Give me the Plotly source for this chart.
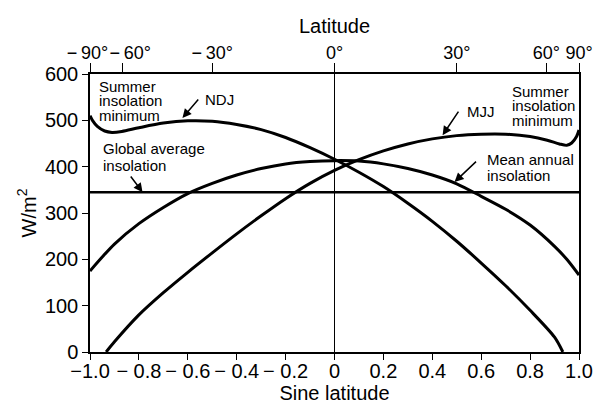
import numpy as np
import plotly.graph_objects as go

# ---------------- data ----------------
sin_lat_ndj = [-1.0, -0.99, -0.97, -0.94, -0.91, -0.87, -0.8, -0.7, -0.6, -0.5, -0.4, -0.3,
               -0.2, -0.1, 0.0, 0.1, 0.2, 0.3, 0.4, 0.5, 0.6, 0.7, 0.8, 0.9, 0.934]
ndj = [510, 500, 487, 477, 474, 476, 484, 494, 499, 498, 491, 480,
       463, 441, 416, 388, 357, 321, 282, 239, 192, 143, 90, 32, 0]

sin_lat_mjj = [-0.934, -0.9, -0.8, -0.7, -0.6, -0.5, -0.4, -0.3, -0.2, -0.1, 0.0, 0.1, 0.2,
               0.3, 0.4, 0.5, 0.6, 0.7, 0.8, 0.87, 0.92, 0.95, 0.97, 0.99, 1.0]
mjj = [0, 22, 80, 128, 172, 214, 255, 294, 331, 364, 392, 415, 434,
       449, 460, 467, 470, 470, 465, 457, 449, 446, 451, 465, 479]

sin_lat_annual = [-1.0, -0.95, -0.9, -0.8, -0.7, -0.6, -0.5, -0.4, -0.3, -0.2, -0.1, 0.0,
                  0.1, 0.2, 0.3, 0.4, 0.5, 0.6, 0.7, 0.8, 0.9, 0.95, 1.0]
annual = [175, 205, 233, 277, 312, 342, 364, 382, 396, 406, 411, 413,
          412, 406, 396, 382, 363, 336, 308, 274, 228, 200, 166]

global_avg_x = [-1.0, 1.0]
global_avg = [345, 345]

x_ticks = [-1.0, -0.8, -0.6, -0.4, -0.2, 0.0, 0.2, 0.4, 0.6, 0.8, 1.0]
x_ticktext = ["\u22121.0", "\u2212 0.8", "\u2212 0.6", "\u2212 0.4", "\u2212 0.2", "0",
              "0.2", "0.4", "0.6", "0.8", "1.0"]
y_ticks = [0, 100, 200, 300, 400, 500, 600]
lat_ticks = [-90, -60, -30, 0, 30, 60, 90]
lat_ticktext = ["\u2212\u200990\u00b0\u00a0", "\u00a0\u00a0\u00a0\u2212\u200960\u00b0",
                "\u2212\u200930\u00b0", "0\u00b0", "30\u00b0", "60\u00b0", "90\u00b0"]

FONT = "Liberation Sans, Arial, sans-serif"

fig = go.Figure()
line_style = dict(color="black", width=3, shape="spline", smoothing=0.8)
fig.add_trace(go.Scatter(x=sin_lat_ndj, y=ndj, mode="lines", line=line_style, name="NDJ"))
fig.add_trace(go.Scatter(x=sin_lat_mjj, y=mjj, mode="lines", line=line_style, name="MJJ"))
fig.add_trace(go.Scatter(x=sin_lat_annual, y=annual, mode="lines", line=line_style,
                         name="Mean annual"))
fig.add_trace(go.Scatter(x=global_avg_x, y=global_avg, mode="lines",
                         line=dict(color="black", width=2.5), name="Global average"))
# invisible trace for top axis
fig.add_trace(go.Scatter(x=[-1, 1], y=[None, None], xaxis="x2", mode="lines",
                         showlegend=False, hoverinfo="skip"))

fig.add_vline(x=0, line=dict(color="black", width=1))

tickfont = dict(family=FONT, size=20, color="black")
fig.update_layout(
    width=596, height=406,
    margin=dict(l=90, r=17, t=74, b=54),
    paper_bgcolor="white", plot_bgcolor="white",
    showlegend=False,
    font=dict(family=FONT, color="black"),
    xaxis=dict(range=[-1, 1], tickvals=x_ticks, ticktext=x_ticktext, tickangle=0,
               ticks="outside", ticklen=6, tickwidth=1.2, tickcolor="black",
               ticklabelstandoff=-6,
               showline=True, linecolor="black", linewidth=1.5, mirror=True,
               showgrid=False, zeroline=False, tickfont=tickfont,
               title=dict(text="Sine latitude", font=dict(family=FONT, size=20), standoff=4),
               automargin=False),
    xaxis2=dict(range=[-1, 1], overlaying="x", side="top", anchor="y",
                tickvals=list(np.sin(np.radians(lat_ticks))), ticktext=lat_ticktext,
                tickangle=0, ticks="outside", ticklen=9, tickwidth=1.2, tickcolor="black",
                ticklabelstandoff=-3,
                showline=True, linecolor="black", linewidth=1.5,
                showgrid=False, zeroline=False,
                tickfont=dict(family=FONT, size=18, color="black"),
                title=dict(text="Latitude", font=dict(family=FONT, size=20), standoff=4),
                automargin=False),
    yaxis=dict(range=[0, 600], tickvals=y_ticks, ticks="outside", ticklen=6, tickwidth=1.2,
               tickcolor="black", showline=True, linecolor="black", linewidth=1.5,
               mirror=True, showgrid=False, zeroline=False, tickfont=tickfont,
               title=dict(text="W/m<sup>2</sup>", font=dict(family=FONT, size=20), standoff=3),
               automargin=False),
)

ann_font = dict(family=FONT, size=15, color="black")
texts = [
    ("Summer", -0.973, 574, "left"),
    ("insolation", -0.973, 543, "left"),
    ("minimum", -0.973, 511, "left"),
    ("NDJ", -0.537, 544, "left"),
    ("Global average", -0.957, 439, "left"),
    ("insolation", -0.957, 402, "left"),
    ("MJJ", 0.535, 519, "left"),
    ("Summer", 0.718, 562, "left"),
    ("insolation", 0.718, 531, "left"),
    ("minimum", 0.718, 499, "left"),
    ("Mean annual", 0.614, 416, "left"),
    ("insolation", 0.614, 380, "left"),
]
for t, x, y, anc in texts:
    fig.add_annotation(x=x, y=y, text=t, showarrow=False, xanchor=anc, yanchor="middle",
                       font=ann_font)

arrows = [
    (-0.622, 505, -0.552, 548),
    (-0.785, 345, -0.838, 382),
    (0.442, 468, 0.511, 522),
    (0.491, 367, 0.585, 414),
]
for hx, hy, tx, ty in arrows:
    fig.add_annotation(x=hx, y=hy, ax=tx, ay=ty, axref="x", ayref="y", text="",
                       showarrow=True, arrowhead=2, arrowsize=1.2, arrowwidth=1.5,
                       arrowcolor="black")

fig.write_html("out.html")
